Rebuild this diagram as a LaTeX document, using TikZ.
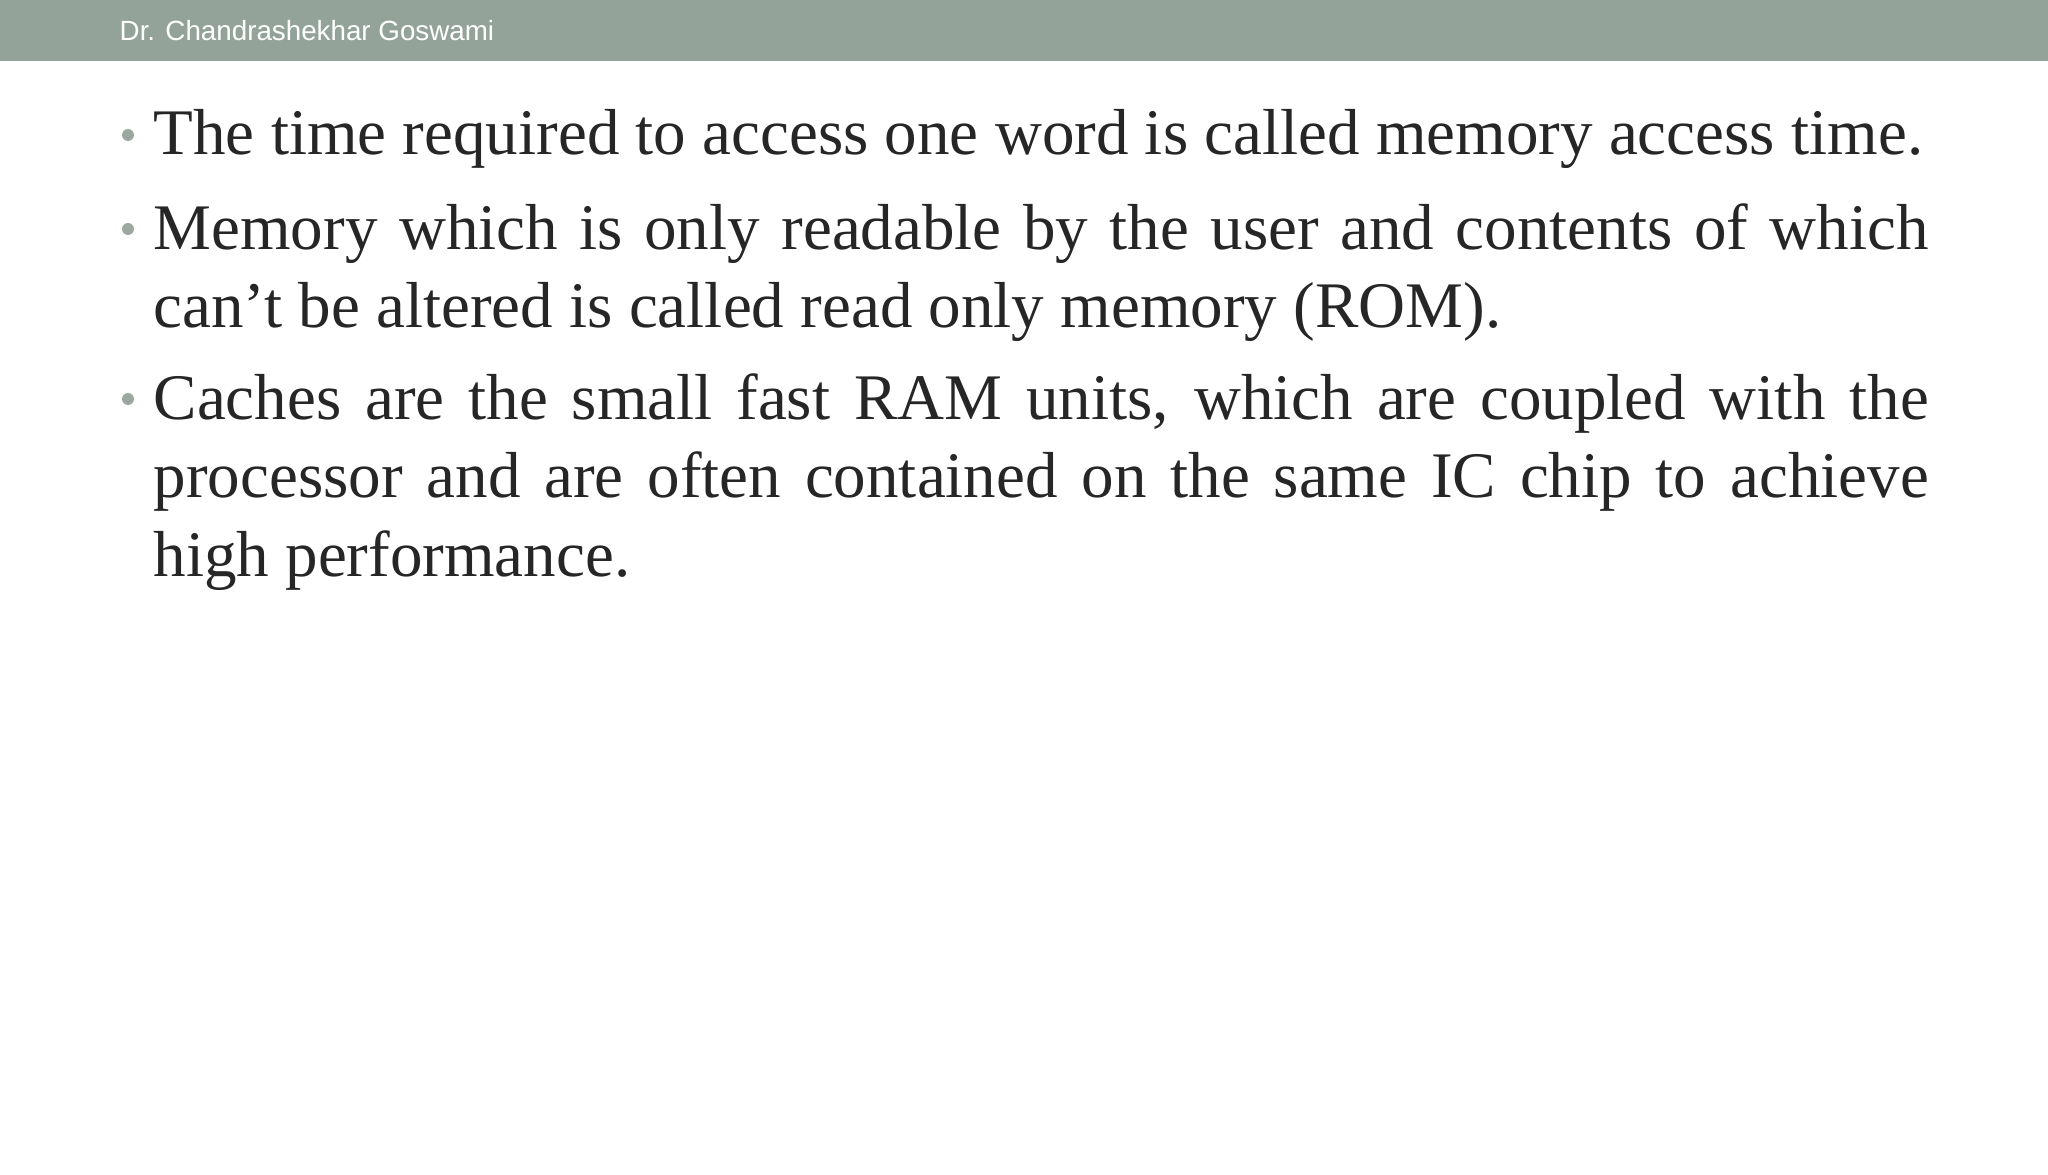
\documentclass[tikz,border=0pt]{standalone}
\usepackage{fontspec}
\setmainfont{Liberation Serif}
\newfontfamily\hdrfont{Liberation Sans}
\definecolor{hdr}{HTML}{93A39A}
\definecolor{txt}{HTML}{262626}
\definecolor{bul}{HTML}{9AA8A0}
\begin{document}
\begin{tikzpicture}[
  para/.style={anchor=north west,inner sep=0pt,text width=17.75cm,align=justify,text=txt,font=\fontsize{18.5pt}{22.3pt}\selectfont},
  bulletdot/.style={circle,fill=bul,inner sep=0pt,minimum size=0.12cm}]
\useasboundingbox (0,0) rectangle (20.48,-11.75);
\fill[white] (0,0) rectangle (20.48,-11.75);
\fill[hdr] (0,0) rectangle (20.48,-0.61);
\node[anchor=west,text=white,font=\hdrfont\fontsize{7.9pt}{9pt}\selectfont,inner sep=0pt] (hdrtext) at (1.19,-0.31) {Dr. Chandrashekhar Goswami};
\node[para] (p1) at (1.53,-1.09) {The time required to access one word is called memory access time.};
\node[para] (p2) at (1.53,-2.03) {Memory which is only readable by the user and contents of which can’t be altered is called read only memory (ROM).};
\node[para] (p3) at (1.53,-3.73) {Caches are the small fast RAM units, which are coupled with the processor and are often contained on the same IC chip to achieve high performance.};
\node[bulletdot] (b1) at (1.28,-1.35) {};
\node[bulletdot] (b2) at (1.28,-2.29) {};
\node[bulletdot] (b3) at (1.28,-3.99) {};
\end{tikzpicture}
\end{document}
